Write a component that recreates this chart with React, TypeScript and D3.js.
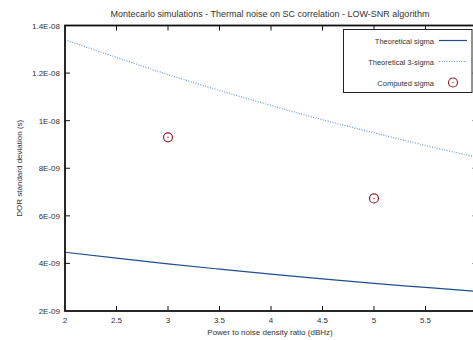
import React from "react";
import * as d3 from "d3";

const xTicks = [2, 2.5, 3, 3.5, 4, 4.5, 5, 5.5];
const yTicks = [2e-9, 4e-9, 6e-9, 8e-9, 1e-8, 1.2e-8, 1.4e-8];
const yTickLabels = ["2E-09", "4E-09", "6E-09", "8E-09", "1E-08", "1.2E-08", "1.4E-08"];

const snr = [2, 2.5, 3, 3.5, 4, 4.5, 5, 5.5, 6];
const theoSigma = [4.47e-9, 4.22e-9, 3.98e-9, 3.76e-9, 3.55e-9, 3.35e-9, 3.16e-9, 2.99e-9, 2.82e-9];
const theo3Sigma = [13.4e-9, 12.66e-9, 11.94e-9, 11.27e-9, 10.64e-9, 10.04e-9, 9.49e-9, 8.96e-9, 8.46e-9];
const computedX = [3, 5];
const computedSigma = [9.3e-9, 6.73e-9];

const W = 473;
const H = 340;
const left = 65;
const right = 477;
const top = 25.5;
const bottom = 311;

export default function App() {
  const x = d3.scaleLinear().domain([2, 6]).range([left, right]);
  const y = d3.scaleLinear().domain([2e-9, 1.4e-8]).range([bottom, top]);
  const line = d3
    .line<number>()
    .x((_, i) => x(snr[i]))
    .y((d) => y(d))
    .curve(d3.curveMonotoneX);

  const font = "'Liberation Sans', Arial, Helvetica, sans-serif";
  const txt = "#333";
  const legendRows = [
    { label: "Theoretical sigma", y: 40.5 },
    { label: "Theoretical 3-sigma", y: 61.5 },
    { label: "Computed sigma", y: 82.5 },
  ];

  return (
    <svg
      width={W}
      height={H}
      style={{ position: "absolute", left: 0, top: 0, background: "#fff" }}
      fontFamily={font}
    >
      <rect x={0} y={0} width={W} height={H} fill="#fff" />
      <text x={270} y={17} textAnchor="middle" fontSize={9} fill={txt}>
        Montecarlo simulations - Thermal noise on SC correlation - LOW-SNR algorithm
      </text>

      {/* data lines */}
      <path d={line(theoSigma) || ""} fill="none" stroke="#1d4f8e" strokeWidth={1.2} />
      <path
        d={line(theo3Sigma) || ""}
        fill="none"
        stroke="#6a9ad6"
        strokeWidth={1.2}
        strokeDasharray="1 1.5"
      />
      {computedX.map((cx, i) => (
        <g key={i}>
          <circle cx={x(cx)} cy={y(computedSigma[i])} r={4.5} fill="none" stroke="#9b2335" strokeWidth={1.2} />
          <circle cx={x(cx)} cy={y(computedSigma[i])} r={0.7} fill="#9b2335" />
        </g>
      ))}

      {/* axes box */}
      <rect x={left} y={top} width={right - left} height={bottom - top} fill="none" stroke="#111" strokeWidth={1.8} />

      {/* x ticks */}
      {xTicks.map((t, i) => (
        <g key={"x" + i}>
          {i > 0 && (
            <>
              <line x1={x(t)} x2={x(t)} y1={bottom} y2={bottom - 5} stroke="#111" strokeWidth={1} />
              <line x1={x(t)} x2={x(t)} y1={top} y2={top + 5} stroke="#111" strokeWidth={1} />
            </>
          )}
          <text x={x(t)} y={bottom + 12} textAnchor="middle" fontSize={8} fill={txt}>
            {String(t)}
          </text>
        </g>
      ))}

      {/* y ticks */}
      {yTicks.map((t, i) => (
        <g key={"y" + i}>
          {i > 0 && i < yTicks.length - 1 && (
            <>
              <line x1={left} x2={left + 5} y1={y(t)} y2={y(t)} stroke="#111" strokeWidth={1} />
              <line x1={right} x2={right - 5} y1={y(t)} y2={y(t)} stroke="#999" strokeWidth={1} />
            </>
          )}
          <text x={60} y={y(t) + 3} textAnchor="end" fontSize={8} fill={txt}>
            {yTickLabels[i]}
          </text>
        </g>
      ))}

      <text x={270} y={335} textAnchor="middle" fontSize={8} fill={txt}>
        Power to noise density ratio (dBHz)
      </text>
      <text
        x={0}
        y={0}
        transform={`translate(22, ${(top + bottom) / 2}) rotate(-90)`}
        textAnchor="middle"
        fontSize={8}
        fill={txt}
      >
        DOR standard deviation (s)
      </text>

      {/* legend */}
      <rect x={343.5} y={29.5} width={128.5} height={63} fill="#fff" stroke="#222" strokeWidth={1} />
      {legendRows.map((r, i) => (
        <text key={i} x={434} y={r.y + 3} textAnchor="end" fontSize={7.5} fill={txt}>
          {r.label}
        </text>
      ))}
      <line x1={439} x2={467} y1={40.5} y2={40.5} stroke="#1d4f8e" strokeWidth={1.2} />
      <line x1={439} x2={467} y1={61.5} y2={61.5} stroke="#6a9ad6" strokeWidth={1.2} strokeDasharray="1 1.5" />
      <circle cx={453} cy={82.5} r={4.5} fill="none" stroke="#9b2335" strokeWidth={1.2} />
      <circle cx={453} cy={82.5} r={0.7} fill="#9b2335" />
    </svg>
  );
}
